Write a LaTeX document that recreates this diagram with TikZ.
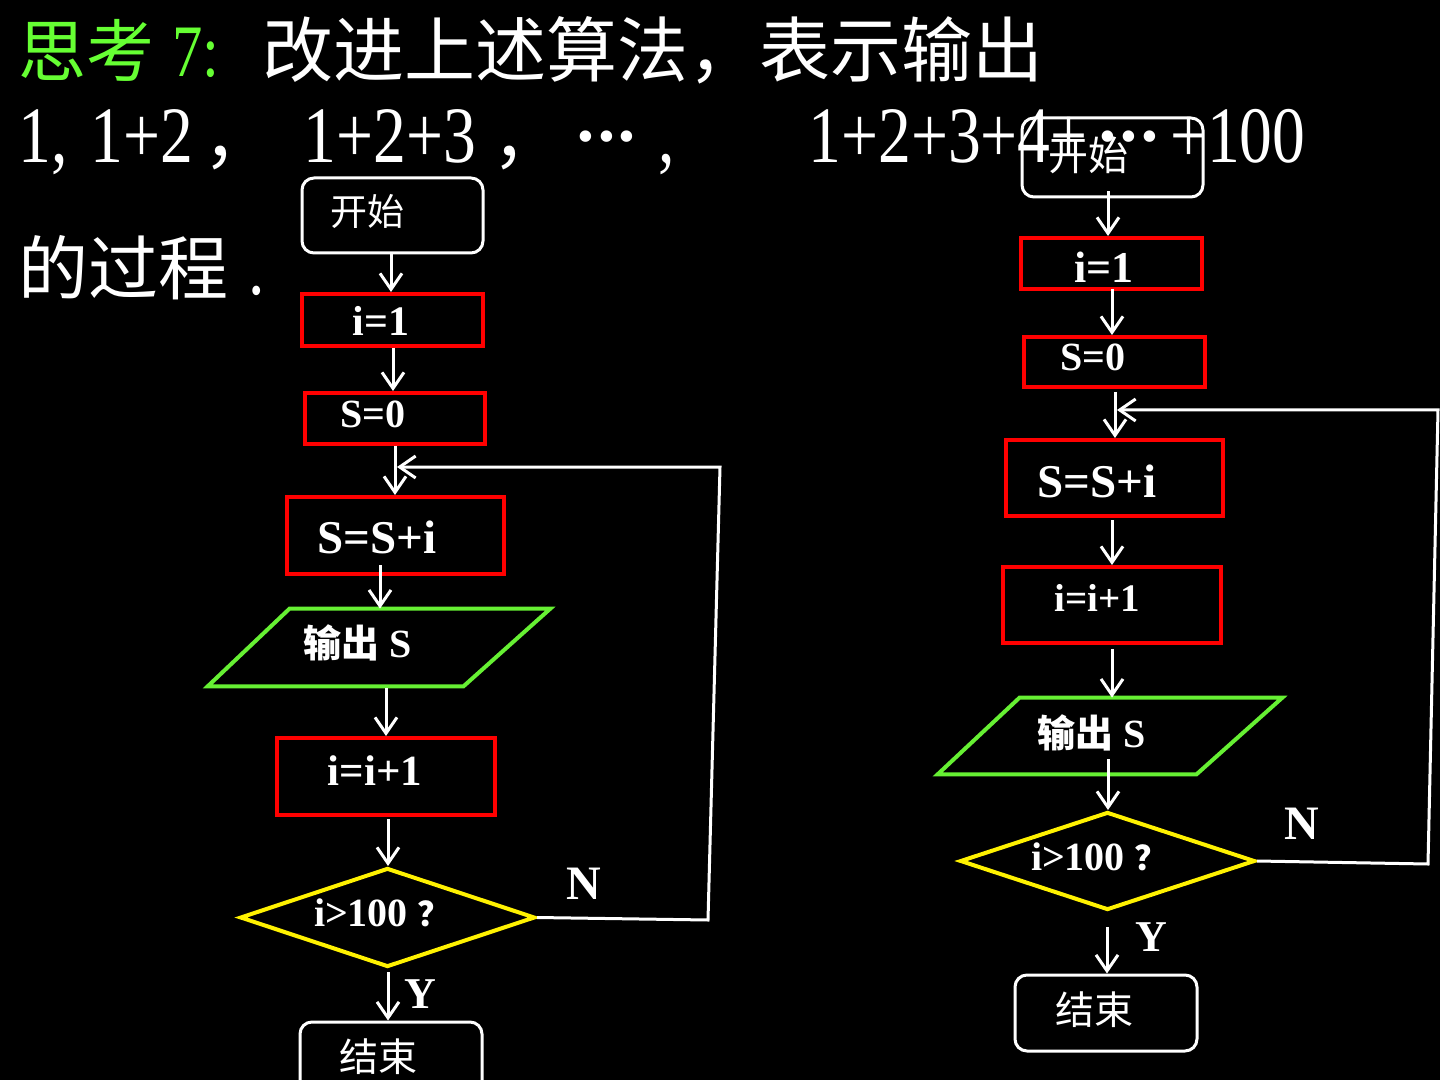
\documentclass[tikz,border=0pt]{standalone}
\usepackage{fontspec}
\setmainfont{Liberation Serif}
\newfontfamily\cjk{Noto Sans CJK SC}
\newfontfamily\narrowserif[FakeStretch=0.82]{Liberation Serif}
\usetikzlibrary{arrows.meta,shapes.geometric,calc}
\newcommand\setfs[1]{\fontsize{#1}{#1}\selectfont}
\newcommand\bigdots{\raisebox{5pt}{\setmainfont{Liberation Serif}\setfs{24pt}•\hspace{2pt}•\hspace{2pt}•}}
\definecolor{tgreen}{RGB}{102,255,51}
\definecolor{pgreen}{RGB}{102,240,51}
\begin{document}
\begin{tikzpicture}[x=0.5pt,y=-0.5pt,
  wire/.style={draw=white, line width=1.5pt},
  arr/.style={wire, -{Straight Barb[length=8pt,width=11pt]}},
  term/.style={draw=white, line width=1.5pt, rounded corners=6pt, inner sep=0pt},
  proc/.style={draw=red, line width=2pt, inner sep=0pt},
  dec/.style={diamond, draw=yellow, line width=2pt, inner sep=0pt},
  io/.style={inner sep=0pt},
  para/.style={draw=pgreen, line width=2pt, line join=miter},
  lbl/.style={text=white, inner sep=0pt, font=\bfseries},
  ttl/.style={text=white, inner sep=0pt, anchor=base west}]
\fill[black] (0,0) rectangle (1440,1080);
\clip (0,0) rectangle (1440,1080);

% ---------- title ----------
\node[ttl, text=tgreen] (t1a) at (18,77) {\cjk\setfs{34pt}思考};
\node[ttl, text=tgreen] (t1b) at (172,77) {\narrowserif\setfs{37pt}7:};
\node[ttl] (t1c) at (262,77) {\cjk\setfs{35.5pt}改进上述算法，表示输出};
\node[ttl] (t2a) at (18,163) {\narrowserif\setfs{40pt}1,};
\node[ttl] (t2b) at (90,163) {\narrowserif\setfs{40pt}1+2};
\node[ttl] (t2c) at (203,163) {\cjk\setfs{35pt}，};
\node[ttl] (t2d) at (303,163) {\narrowserif\setfs{40pt}1+2+3};
\node[ttl] (t2e) at (492,163) {\cjk\setfs{35pt}，};
\node[ttl] (t2f) at (577,163) {\bigdots};
\node[ttl] (t2g) at (658,163) {\narrowserif\setfs{40pt},};
\node[ttl] (t2h) at (808,163) {\narrowserif\setfs{40pt}1+2+3+4+\hspace{6pt}\bigdots\hspace{6pt}+100};
\node[ttl] (t3a) at (18,295) {\cjk\setfs{35pt}的过程};
\node[ttl] (t3b) at (248,295) {\narrowserif\setfs{40pt}.};

% ---------- left flowchart ----------
\node[term, minimum width=90.5pt, minimum height=37.5pt] (startL) at (392.5,215.5) {};
\node[proc, minimum width=90.5pt, minimum height=26pt] (i1L) at (392.5,320) {};
\node[proc, minimum width=90pt, minimum height=25.5pt] (s0L) at (395,418.5) {};
\node[proc, minimum width=108.5pt, minimum height=38.5pt] (ssiL) at (395.5,535.5) {};
\node[io, minimum width=171pt, minimum height=38.5pt] (outL) at (379,647.5) {};
\draw[para] ($(outL.north west)+(82,0)$) -- (outL.north east) -- ($(outL.south east)+(-87,0)$) -- (outL.south west) -- cycle;
\node[proc, minimum width=109pt, minimum height=38.5pt] (incL) at (386,776.5) {};
\node[dec, minimum width=147.5pt, minimum height=49.5pt] (decL) at (387.5,917.5) {};
\node[term, minimum width=91pt, minimum height=38pt] (endL) at (391,1060) {};

\node[lbl, font=\mdseries] (tsL) at (367,211) {\cjk\setfs{18.5pt}开始};
\node[lbl] (ti1L) at (381,321) {\setfs{21pt}i=1};
\node[lbl] (ts0L) at (373,414) {\setfs{20pt}S=0};
\node[lbl] (tssiL) at (377,537) {\setfs{23.5pt}S=S+i};
\node[lbl] (toutL) at (358,643) {{\cjk\setfs{19pt}输出}\setfs{20pt} S};
\node[lbl] (tincL) at (375,771) {\setfs{21.5pt}i=i+1};
\node[lbl] (tdecL) at (383,913) {\setfs{20pt}i>100 {\cjk\setfs{17pt}？}};
\node[lbl] (tnL) at (584,884) {\setfs{24pt}N};
\node[lbl] (tyL) at (420,994) {\setfs{22pt}Y};
\node[lbl, font=\mdseries] (teL) at (378,1057) {\cjk\setfs{19.5pt}结束};

\coordinate (jL) at (397,467);
\draw[arr] ($(startL.south)+(-1.5,0)$) -- ($(i1L.north)+(-1.5,0)$);
\draw[arr] ($(i1L.south)+(0.5,0)$) -- ($(s0L.north)+(-2,0)$);
\draw[arr] (s0L.south) -- (ssiL.north -| s0L.south);
\draw[arr] ($(ssiL.south)+(-15.5,-11)$) -- ($(outL.north)+(1,0)$);
\draw[arr] ($(outL.south)+(7,2)$) -- (incL.north);
\draw[arr] ($(incL.south)+(2,2)$) -- ($(decL.north)+(0.5,0)$);
\draw[arr] ($(decL.south)+(0.5,3)$) -- ($(endL.north)+(-3,0)$);
\draw[arr] (decL.east) -- (708,920) -- (720,467) -- (jL);

% ---------- right flowchart ----------
\node[term, minimum width=90.5pt, minimum height=39.5pt] (startR) at (1112.5,157.5) {};
\node[proc, minimum width=90.5pt, minimum height=25.5pt] (i1R) at (1111.5,263.5) {};
\node[proc, minimum width=90.5pt, minimum height=25pt] (s0R) at (1114.5,362) {};
\node[proc, minimum width=108.5pt, minimum height=38pt] (ssiR) at (1114.5,478) {};
\node[proc, minimum width=109pt, minimum height=38pt] (incR) at (1112,605) {};
\node[io, minimum width=172pt, minimum height=38pt] (outR) at (1110,736) {};
\draw[para] ($(outR.north west)+(82,0)$) -- (outR.north east) -- ($(outR.south east)+(-86,0)$) -- (outR.south west) -- cycle;
\node[dec, minimum width=147.5pt, minimum height=49pt] (decR) at (1107.5,861) {};
\node[term, minimum width=91pt, minimum height=38pt] (endR) at (1106,1013) {};

\node[lbl, font=\mdseries] (tsR) at (1088,155) {\cjk\setfs{20pt}开始};
\node[lbl] (ti1R) at (1104,267) {\setfs{22pt}i=1};
\node[lbl] (ts0R) at (1093,357) {\setfs{20pt}S=0};
\node[lbl] (tssiR) at (1097,481) {\setfs{23.5pt}S=S+i};
\node[lbl] (tincR) at (1097,598) {\setfs{19.5pt}i=i+1};
\node[lbl] (toutR) at (1092,733) {{\cjk\setfs{19pt}输出}\setfs{20pt} S};
\node[lbl] (tdecR) at (1100,857) {\setfs{20pt}i>100 {\cjk\setfs{17pt}？}};
\node[lbl] (tnR) at (1302,824) {\setfs{24pt}N};
\node[lbl] (tyR) at (1151,937) {\setfs{22pt}Y};
\node[lbl, font=\mdseries] (teR) at (1094,1010) {\cjk\setfs{19.5pt}结束};

\coordinate (jR) at (1117,410);
\draw[arr] ($(startR.south)+(-4.5,-7)$) -- ($(i1R.north)+(-3.5,0)$);
\draw[arr] ($(i1R.south)+(0.5,-2)$) -- ($(s0R.north)+(-2.5,0)$);
\draw[arr] ($(s0R.south)+(0.5,3)$) -- ($(ssiR.north)+(0.5,0)$);
\draw[arr] ($(ssiR.south)+(-2.5,2)$) -- ($(incR.north)+(0,0)$);
\draw[arr] ($(incR.south)+(0,4)$) -- ($(outR.north)+(2,0)$);
\draw[arr] ($(outR.south)+(-2,-15)$) -- ($(decR.north)+(0.5,0)$);
\draw[arr] ($(decR.south)+(-0.5,15)$) -- ($(endR.north)+(1,0)$);
\draw[arr] (decR.east) -- (1428,864) -- (1438,410) -- (jR);
\end{tikzpicture}
\end{document}
